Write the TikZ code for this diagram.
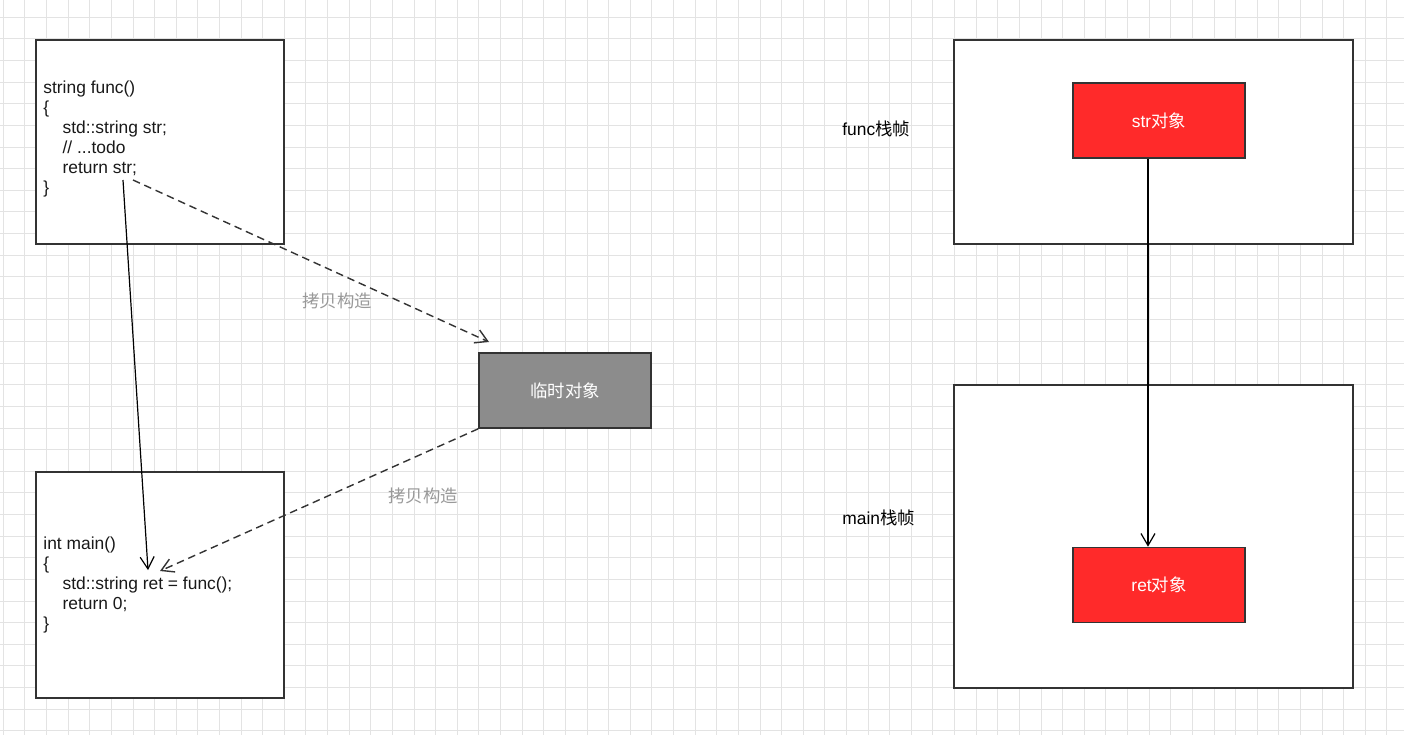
\documentclass[tikz,border=0pt]{standalone}
\usepackage{fontspec}
\setmainfont{Liberation Sans}
\newfontfamily\cjk{Noto Sans CJK SC}
\usetikzlibrary{arrows.meta}
\definecolor{gridGray}{HTML}{E3E3E3}
\definecolor{lineGray}{HTML}{333333}
\definecolor{tempGray}{HTML}{8C8C8C}
\definecolor{objRed}{HTML}{FF2A2A}
\definecolor{noteGray}{HTML}{999999}
\newcommand{\codeindent}{\hspace*{9.6pt}}

\begin{document}
\begin{tikzpicture}[x=0.5pt, y=-0.5pt,
  txt/.style={font=\fontsize{8.7pt}{10pt}\selectfont},
  codebox/.style={draw=lineGray, line width=0.8pt, fill=white, minimum width=124pt},
  frame/.style={draw=lineGray, line width=0.8pt, fill=white, minimum width=199.5pt},
  objbox/.style={txt, draw=lineGray, line width=0.8pt, minimum width=86pt, minimum height=37.5pt, text=white},
  code/.style={txt, anchor=west, align=left, inner sep=0pt, text=black!90},
  note/.style={txt, text=noteGray, inner sep=0pt},
  copyarrow/.style={draw=lineGray, line width=0.7pt, dash pattern=on 3.8pt off 2.4pt, -{Straight Barb[length=6pt,width=7pt]}},
  passarrow/.style={draw=black, line width=0.6pt, -{Straight Barb[length=6pt,width=7pt]}}]
  % background and grid
  \fill[white] (0,0) rectangle (1404,735);
  \useasboundingbox (0,0) rectangle (1404,735);
  \foreach \i in {0,...,64} \draw[gridGray, line width=0.5pt] ({3.3+21.62*\i},0) -- ++(0,735);
  \foreach \j in {0,...,33} \draw[gridGray, line width=0.5pt] (0,{17.3+21.62*\j}) -- ++(1404,0);

  % code boxes
  \node[codebox, minimum height=102pt] (func) at (160,142) {};
  \node[code] (funccode) at (43,138.5) {string func()\\\{\\\codeindent std::string str;\\\codeindent // ...todo\\\codeindent return str;\\\}};
  \node[codebox, minimum height=113pt] (main) at (160,585) {};
  \node[code] (maincode) at (43,585) {int main()\\\{\\\codeindent std::string ret = func();\\\codeindent return 0;\\\}};

  % temporary object
  \node[objbox, fill=tempGray] (tmp) at (565,390.5) {\cjk 临时对象};
  \node[note] (copy1) at (337,301) {\cjk 拷贝构造};
  \node[note] (copy2) at (423,496) {\cjk 拷贝构造};

  % stack frames
  \node[frame, minimum height=102pt] (funcframe) at (1153.5,142) {};
  \node[frame, minimum height=151.5pt] (mainframe) at (1153.5,536.5) {};
  \node[txt, anchor=west, inner sep=0pt] (funclabel) at (842,129) {func{\cjk 栈帧}};
  \node[txt, anchor=west, inner sep=0pt] (mainlabel) at (842,518) {main{\cjk 栈帧}};
  \node[objbox, fill=objRed] (str) at (1159,120.5) {str{\cjk 对象}};
  \node[objbox, fill=objRed] (ret) at (1159,585) {ret{\cjk 对象}};

  % arrow ends
  \coordinate (retstr) at (123,180);
  \coordinate (retstrcopy) at (133,180);
  \coordinate (tmpin) at (489,342);
  \coordinate (retin) at (148,570);
  \coordinate (retcopyin) at (160,571);
  \coordinate (strline) at (1148,0);

  % arrows
  \draw[copyarrow] (retstrcopy) -- (tmpin);
  \draw[copyarrow] (tmp.south west) -- (retcopyin);
  \draw[passarrow] (retstr) -- (retin);
  \draw[passarrow] (str.south -| strline) -- (ret.north -| strline);
\end{tikzpicture}
\end{document}
